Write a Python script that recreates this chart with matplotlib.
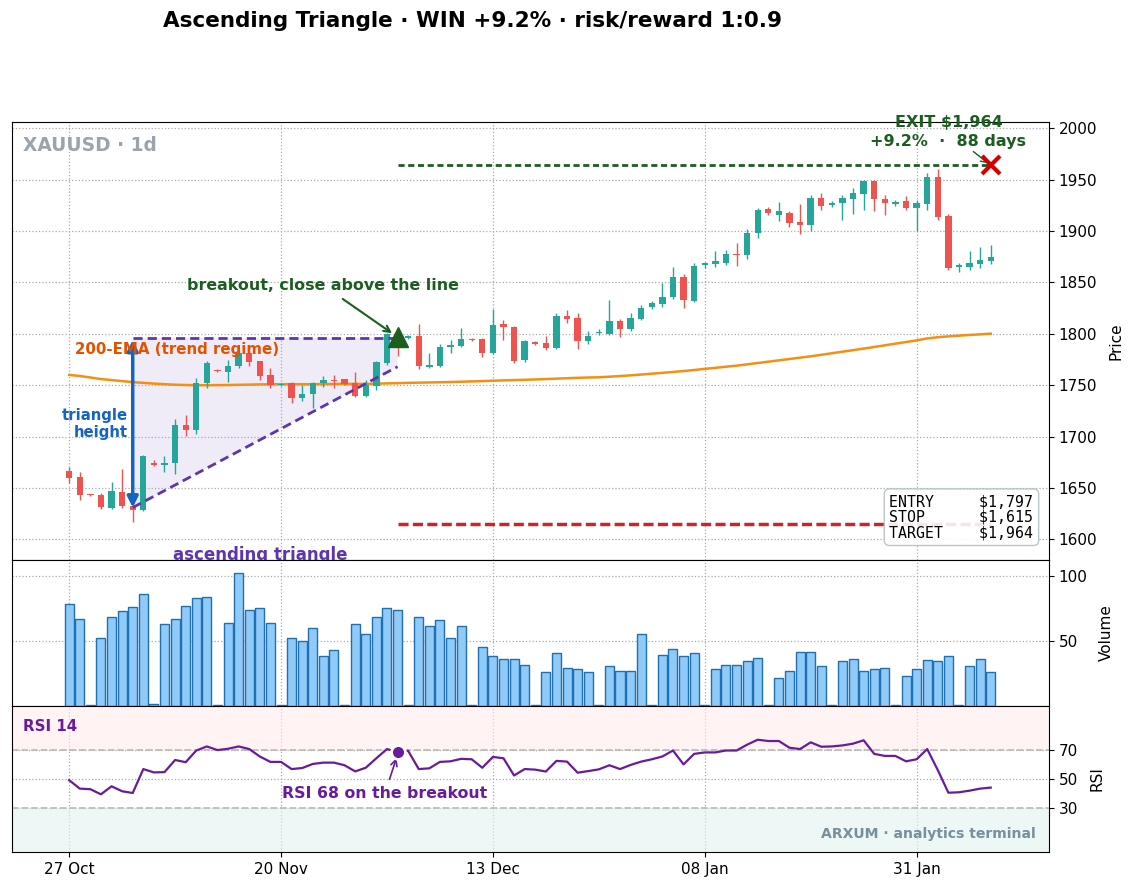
import matplotlib
matplotlib.use("Agg")
from matplotlib import pyplot as plt

# --- data (daily bars, index 0 = 27 Oct) ---
opens = [1667, 1661, 1643.5, 1643.5, 1631, 1646.5, 1633, 1629, 1674, 1672,
         1674, 1711, 1706, 1752, 1765, 1763, 1769, 1781, 1774, 1760,
         1750, 1752, 1738, 1741, 1752, 1755, 1756, 1752, 1740, 1749,
         1772, 1800, 1796, 1798, 1768, 1769, 1787, 1788, 1795, 1795,
         1781, 1810, 1807, 1775, 1792, 1791, 1786, 1817, 1815, 1793,
         1801, 1800, 1812, 1805, 1814, 1826, 1829, 1836, 1855, 1832,
         1867, 1868, 1869, 1878, 1877, 1898, 1921, 1916, 1918, 1909,
         1906, 1932, 1925, 1927, 1931, 1936, 1949, 1931, 1926, 1929,
         1922, 1926, 1953, 1915, 1865, 1865, 1868, 1871]
highs = [1670, 1666, 1644, 1645, 1656, 1669, 1634, 1682, 1677, 1681,
         1717, 1721, 1757, 1774, 1766, 1775, 1785, 1783, 1774, 1767,
         1752, 1753, 1750, 1753, 1759, 1760, 1756, 1763, 1755, 1774,
         1801, 1801, 1799, 1810, 1781, 1790, 1794, 1806, 1796, 1796,
         1824, 1813, 1808, 1794, 1793, 1798, 1820, 1823, 1820, 1803,
         1805, 1833, 1814, 1820, 1828, 1832, 1849, 1865, 1858, 1869,
         1870, 1881, 1882, 1888, 1902, 1922, 1923, 1928, 1919, 1926,
         1935, 1937, 1929, 1935, 1942, 1950, 1950, 1935, 1930, 1934,
         1930, 1956, 1960, 1917, 1869, 1881, 1884, 1886]
lows = [1655, 1638, 1642.5, 1630, 1630, 1631, 1617, 1628, 1671, 1666,
        1664, 1701, 1703, 1747, 1763, 1753, 1767, 1769, 1755, 1747,
        1749, 1733, 1735, 1728, 1748, 1747, 1750, 1739, 1739, 1745,
        1770, 1778, 1795, 1766, 1767, 1768, 1781, 1787, 1793, 1777,
        1780, 1794, 1772, 1773, 1789, 1784, 1785, 1811, 1785, 1790,
        1799, 1799, 1797, 1803, 1813, 1824, 1826, 1834, 1825, 1831,
        1864, 1865, 1867, 1866, 1873, 1893, 1916, 1910, 1904, 1897,
        1900, 1920, 1923, 1911, 1917, 1920, 1919, 1916, 1924, 1920,
        1900, 1920, 1911, 1862, 1860, 1862, 1864, 1868]
closes = [1660, 1643, 1643, 1632, 1647, 1632.5, 1629, 1681, 1672, 1674,
          1711, 1706, 1752, 1772, 1764, 1769, 1781, 1773, 1759, 1750,
          1751, 1738, 1741, 1752, 1755, 1754, 1751, 1740, 1750, 1773,
          1800, 1797, 1798, 1769, 1770, 1787, 1789, 1795, 1794, 1781,
          1809, 1807, 1774, 1793, 1790, 1786, 1817, 1814, 1793, 1798,
          1802, 1812, 1805, 1815, 1825, 1830, 1836, 1855, 1833, 1866,
          1869, 1871, 1878, 1877, 1898, 1920, 1918, 1919, 1908, 1906,
          1932, 1924, 1927, 1932, 1937, 1949, 1931, 1927, 1928, 1922,
          1927, 1953, 1914, 1864, 1867, 1869, 1872, 1875]
volumes = [78, 67, 1, 52.5, 68, 73, 75.6, 85.6, 1.8, 62.6,
           67, 77, 82.6, 83.3, 1, 64, 101.8, 74, 75, 64,
           0.4, 52.5, 49.5, 60, 38.7, 42.6, 0.4, 62.6, 55.6, 68,
           75, 74, 1, 68, 61, 65.6, 52.5, 61, 0.4, 45,
           38, 36.4, 36.4, 31.8, 0.4, 26.4, 41, 29.5, 28.7, 26.4,
           0.4, 30.3, 27.2, 27.2, 55.6, 1, 39.5, 44, 38, 40.3,
           0.4, 28.7, 31.8, 31.8, 34.9, 37.2, 1, 21.8, 27.2, 41.8,
           41.8, 31, 0.4, 34.9, 36.4, 27.2, 28.7, 29.5, 0.4, 23.3,
           28, 35.6, 34.9, 38, 0.4, 31, 36.4, 26.4]
ema200 = [1760, 1759, 1757.5, 1756, 1755, 1754, 1753, 1752.3, 1751.6, 1751,
          1750.5, 1750.2, 1750, 1750, 1750.1, 1750.2, 1750.4, 1750.6, 1750.8, 1750.9,
          1751, 1751, 1751, 1751, 1751.1, 1751.2, 1751.3, 1751.3, 1751.3, 1751.5,
          1751.8, 1752, 1752.3, 1752.5, 1752.7, 1752.9, 1753.1, 1753.4, 1753.7, 1754,
          1754.4, 1754.7, 1755, 1755.3, 1755.6, 1756, 1756.4, 1756.8, 1757.2, 1757.5,
          1757.7, 1758.3, 1758.9, 1759.6, 1760.4, 1761.2, 1762, 1762.9, 1763.8, 1764.8,
          1765.9, 1766.9, 1768, 1769, 1770.3, 1771.6, 1772.9, 1774.2, 1775.5, 1776.8,
          1778.1, 1779.6, 1781.1, 1782.6, 1784.1, 1785.6, 1787.2, 1788.8, 1790.4, 1792,
          1793.6, 1795.5, 1796.7, 1797.5, 1798.2, 1798.9, 1799.5, 1800.1]
rsi14 = [49.2, 43.4, 43, 39.5, 45, 41.6, 40.4, 56.8, 54.5, 54.7,
         63, 61.5, 69.5, 72.3, 69.8, 70.7, 72.3, 70.5, 65.4, 61.7,
         61.7, 56.8, 57.5, 60.3, 61.2, 61.2, 59.4, 55.2, 57.7, 64.2,
         70.5, 68.4, 69.3, 56.8, 57.3, 61.7, 62.1, 63.8, 63.5, 57.7,
         65.1, 64.2, 52.4, 56.8, 56.4, 55.1, 62.4, 61.9, 54.3, 55.4,
         56.6, 59.4, 56.8, 59.6, 61.9, 63.5, 65.4, 69.5, 60, 67.2,
         68.2, 68.2, 69.5, 69.5, 73.5, 76.9, 76, 76, 71.4, 70.5,
         75.1, 72.1, 72.3, 73, 74.2, 76.5, 67.2, 65.8, 65.8, 62.1,
         63.5, 70.5, 56.1, 40.6, 40.9, 42, 43.4, 44.1]
tick_pos = [0, 20, 40, 60, 80]
tick_labels = ["27 Oct", "20 Nov", "13 Dec", "08 Jan", "31 Jan"]

# trade setup
pattern_start, breakout_idx, exit_idx = 6, 31, 87
resistance = 1796
support_start, support_end = 1631, 1768
entry, stop, target = 1797, 1615, 1964

UP, DOWN = "#26A69A", "#EF5350"
PURPLE = "#5E35B1"
DKGREEN = "#1B5E20"

fig, (ax, axv, axr) = plt.subplots(
    3, 1, sharex=True, figsize=(11.39, 8.94), dpi=100,
    gridspec_kw={"height_ratios": [3, 1, 1]})
fig.subplots_adjust(left=0.0105, right=0.921, top=0.8635, bottom=0.047, hspace=0)

x = list(range(len(closes)))
colors = [UP if c >= o else DOWN for o, c in zip(opens, closes)]

# candles
ax.vlines(x, lows, highs, colors=colors, linewidth=1, zorder=3)
bottoms = [min(o, c) for o, c in zip(opens, closes)]
heights = [max(abs(c - o), 0.8) for o, c in zip(opens, closes)]
ax.bar(x, heights, bottom=bottoms, width=0.6, color=colors, zorder=4)

ax.plot(x, ema200, color="#F39012", lw=1.8, zorder=2)

# ascending triangle
ax.fill([pattern_start, breakout_idx, breakout_idx, pattern_start],
        [support_start, support_end, resistance, resistance],
        color="#B39DDB", alpha=0.2, lw=0, zorder=1)
ax.plot([pattern_start, breakout_idx], [resistance, resistance], color=PURPLE,
        lw=2, ls=(0, (3.3, 1.8)), zorder=5)
ax.plot([pattern_start, breakout_idx], [support_start, support_end], color=PURPLE,
        lw=2, ls=(0, (3.3, 1.8)), zorder=5)
ax.annotate("", xy=(pattern_start, support_start), xytext=(pattern_start, resistance - 2),
            arrowprops=dict(arrowstyle="<|-|>", color="#1565C0", lw=2.5,
                            shrinkA=0, shrinkB=0, mutation_scale=16), zorder=6)
ax.text(pattern_start - 0.45, 1712, "triangle\nheight", color="#1565C0", fontsize=10.7,
        fontweight="bold", ha="right", va="center", multialignment="right")
ax.text(0.55, 1785, "200-EMA (trend regime)", color="#E65100", fontsize=10.8,
        fontweight="bold", ha="left", va="center", zorder=7)
ax.text(18, 1585, "ascending triangle", color=PURPLE, fontsize=12,
        fontweight="bold", ha="center", va="center", clip_on=False)

# breakout
ax.plot(breakout_idx, entry, marker="^", color=DKGREEN, markersize=15, zorder=8, ls="none")
ax.annotate("breakout, close above the line", xy=(breakout_idx - 0.3, entry + 2),
            xytext=(24, 1847), color=DKGREEN, fontsize=11.4, fontweight="bold",
            ha="center", va="center",
            arrowprops=dict(arrowstyle="->", color=DKGREEN, lw=1.5, shrinkA=4, shrinkB=2))

# target / stop
ax.hlines(target, breakout_idx, exit_idx, color=DKGREEN, lw=2, ls=(0, (2.2, 1.3)), zorder=3)
ax.hlines(stop, breakout_idx, exit_idx, color="#C62828", lw=2.5, ls=(0, (2.9, 1.25)), zorder=3)
ax.plot(exit_idx, target, marker="x", color="#D50000", markersize=13, mew=3, zorder=8, ls="none")
ax.annotate("EXIT $1,964\n+9.2%  \u00b7  88 days", xy=(exit_idx, target),
            xytext=(83, 1980), color=DKGREEN, fontsize=11.5, fontweight="bold",
            ha="center", va="bottom", linespacing=1.3, annotation_clip=False,
            arrowprops=dict(arrowstyle="->", color=DKGREEN, lw=1, shrinkA=0, shrinkB=2))

info = (f"{'ENTRY':<10}{'$1,797':>6}\n{'STOP':<10}{'$1,615':>6}\n"
        f"{'TARGET':<10}{'$1,964':>6}")
ax.text(0.985, 0.045, info, transform=ax.transAxes, family="DejaVu Sans Mono",
        fontsize=10.7, ha="right", va="bottom", linespacing=1.05, zorder=9,
        bbox=dict(boxstyle="round,pad=0.35", fc="white", ec="#B0BEC5", alpha=0.88))
ax.text(0.011, 0.967, "XAUUSD \u00b7 1d", transform=ax.transAxes, color="#9AA4AC",
        fontsize=13.4, fontweight="bold", ha="left", va="top")

ax.set_ylim(1580, 2006)
ax.set_yticks(range(1600, 2001, 50))
ax.set_ylabel("Price", fontsize=11, labelpad=8)

# volume
axv.bar(x, volumes, width=0.85, color="#90CAF9", edgecolor="#1F6FB2", linewidth=1, zorder=3)
axv.set_ylim(0, 112)
axv.set_yticks([50, 100])
axv.set_ylabel("Volume", fontsize=11, labelpad=8)

# RSI
axr.axhspan(70, 100, color="#FFEBEE", alpha=0.6, lw=0)
axr.axhspan(0, 30, color="#E0F2F1", alpha=0.6, lw=0)
axr.axhline(70, color="#BDBDBD", lw=1.3, ls="--")
axr.axhline(30, color="#BDBDBD", lw=1.3, ls="--")
axr.plot(x, rsi14, color="#6A1B9A", lw=1.6, zorder=3)
axr.plot(breakout_idx, rsi14[breakout_idx], marker="o", color="#6A1B9A", markersize=10,
         mec="white", mew=2, zorder=5, ls="none")
axr.annotate("RSI 68 on the breakout", xy=(breakout_idx - 0.1, rsi14[breakout_idx] - 4),
             xytext=(29.8, 40), color="#6A1B9A", fontsize=11.3, fontweight="bold",
             ha="center", va="center",
             arrowprops=dict(arrowstyle="->", color="#6A1B9A", lw=1.2, shrinkA=3, shrinkB=0))
axr.text(0.011, 0.86, "RSI 14", transform=axr.transAxes, color="#6A1B9A",
         fontsize=10.8, fontweight="bold", ha="left", va="center")
axr.text(0.987, 0.12, "ARXUM \u00b7 analytics terminal", transform=axr.transAxes,
         color="#78909C", fontsize=10.1, fontweight="bold", ha="right", va="center")
axr.set_ylim(0, 100)
axr.set_yticks([30, 50, 70])
axr.set_ylabel("RSI", fontsize=11, labelpad=8)

for a in (ax, axv, axr):
    a.yaxis.tick_right()
    a.yaxis.set_label_position("right")
    a.grid(True, ls=":", color="#AAAAAA", lw=0.9)
    a.set_axisbelow(True)
    a.tick_params(axis="y", labelsize=11)
for a in (ax, axv):
    a.tick_params(axis="x", length=0)

axr.set_xlim(-5.4, 92.5)
axr.set_xticks(tick_pos)
axr.set_xticklabels(tick_labels, fontsize=11)

fig.text(0.415, 0.9765, "Ascending Triangle \u00b7 WIN +9.2% \u00b7 risk/reward 1:0.9",
         fontsize=15.5, fontweight="bold", ha="center", va="center")

fig.savefig("out.png", dpi=100)
